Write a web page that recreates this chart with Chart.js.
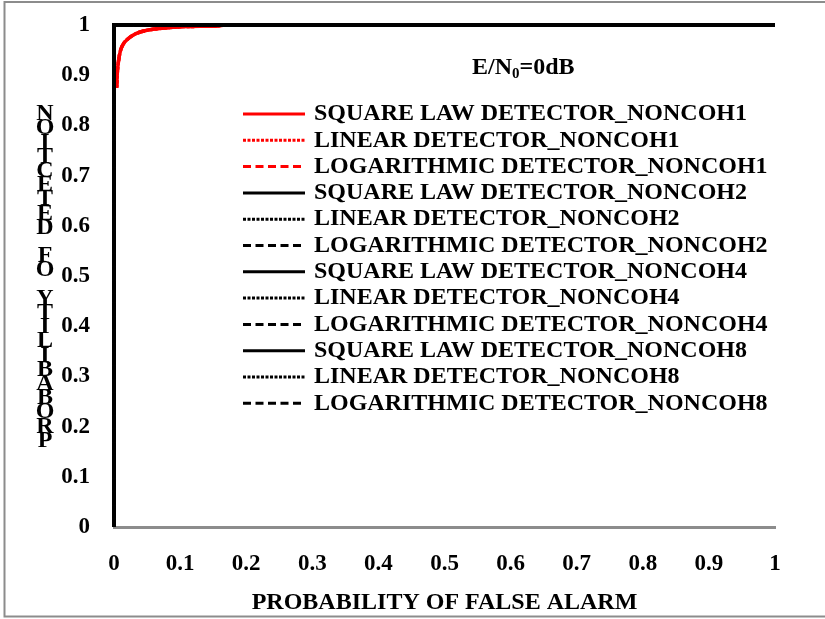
<!DOCTYPE html>
<html>
<head>
<meta charset="utf-8">
<script src="https://cdn.jsdelivr.net/npm/chart.js@4.4.1/dist/chart.umd.min.js"></script>
<style>
  body { margin: 0; background: #fff; }
  #wrap { width: 825px; height: 619px; }
</style>
</head>
<body>
<div id="wrap"><canvas id="roc" width="825" height="619"></canvas></div>
<script>
// ROC curves, E/N0 = 0dB
var xTicks = [0, 0.1, 0.2, 0.3, 0.4, 0.5, 0.6, 0.7, 0.8, 0.9, 1];
var yTicks = [0, 0.1, 0.2, 0.3, 0.4, 0.5, 0.6, 0.7, 0.8, 0.9, 1];

// noncoherent integration of 1 pulse
var pfa1 = [0.004, 0.005, 0.007, 0.01, 0.014, 0.02, 0.032, 0.045, 0.062, 0.085, 0.112, 0.155, 0.17, 0.3, 0.4, 0.5, 0.6, 0.7, 0.8, 0.9, 1];
var pdSquare1 = [0.875, 0.905, 0.93, 0.95, 0.962, 0.971, 0.982, 0.988, 0.992, 0.995, 0.997, 0.998, 1, 1, 1, 1, 1, 1, 1, 1, 1];
var pdLinear1 = [0.875, 0.905, 0.93, 0.95, 0.962, 0.971, 0.982, 0.988, 0.992, 0.995, 0.997, 0.998, 1, 1, 1, 1, 1, 1, 1, 1, 1];
var pdLog1 = [0.875, 0.905, 0.93, 0.95, 0.962, 0.971, 0.982, 0.988, 0.992, 0.995, 0.997, 0.998, 1, 1, 1, 1, 1, 1, 1, 1, 1];

// 2, 4 and 8 pulses: detection is already certain
var pfaN = [0, 0, 0.1, 0.2, 0.3, 0.4, 0.5, 0.6, 0.7, 0.8, 0.9, 1];
var pdSquare2 = [0, 1, 1, 1, 1, 1, 1, 1, 1, 1, 1, 1];
var pdLinear2 = [0, 1, 1, 1, 1, 1, 1, 1, 1, 1, 1, 1];
var pdLog2 = [0, 1, 1, 1, 1, 1, 1, 1, 1, 1, 1, 1];
var pdSquare4 = [0, 1, 1, 1, 1, 1, 1, 1, 1, 1, 1, 1];
var pdLinear4 = [0, 1, 1, 1, 1, 1, 1, 1, 1, 1, 1, 1];
var pdLog4 = [0, 1, 1, 1, 1, 1, 1, 1, 1, 1, 1, 1];
var pdSquare8 = [0, 1, 1, 1, 1, 1, 1, 1, 1, 1, 1, 1];
var pdLinear8 = [0, 1, 1, 1, 1, 1, 1, 1, 1, 1, 1, 1];
var pdLog8 = [0, 1, 1, 1, 1, 1, 1, 1, 1, 1, 1, 1];

var FONT = '"Liberation Serif", "Times New Roman", serif';

function pts(xs, ys) {
    return xs.map(function (x, i) { return { x: x, y: ys[i] }; });
}

var solid = [];
var fine = [3, 1.5];
var dash = [8, 4.5];

function series(label, xs, ys, color, pattern, order) {
    return {
        label: label,
        data: pts(xs, ys),
        borderColor: color,
        backgroundColor: color,
        borderWidth: 3.5,
        borderDash: pattern,
        pointRadius: 0,
        fill: false,
        cubicInterpolationMode: 'monotone',
        clip: false,
        order: order
    };
}

var datasets = [
    series('SQUARE LAW DETECTOR_NONCOH1', pfa1, pdSquare1, 'red', solid, 1),
    series('LINEAR DETECTOR_NONCOH1', pfa1, pdLinear1, 'red', fine, 2),
    series('LOGARITHMIC DETECTOR_NONCOH1', pfa1, pdLog1, 'red', dash, 3),
    series('SQUARE LAW DETECTOR_NONCOH2', pfaN, pdSquare2, 'black', solid, 0),
    series('LINEAR DETECTOR_NONCOH2', pfaN, pdLinear2, 'black', fine, 0),
    series('LOGARITHMIC DETECTOR_NONCOH2', pfaN, pdLog2, 'black', dash, 0),
    series('SQUARE LAW DETECTOR_NONCOH4', pfaN, pdSquare4, 'black', solid, 0),
    series('LINEAR DETECTOR_NONCOH4', pfaN, pdLinear4, 'black', fine, 0),
    series('LOGARITHMIC DETECTOR_NONCOH4', pfaN, pdLog4, 'black', dash, 0),
    series('SQUARE LAW DETECTOR_NONCOH8', pfaN, pdSquare8, 'black', solid, 0),
    series('LINEAR DETECTOR_NONCOH8', pfaN, pdLinear8, 'black', fine, 0),
    series('LOGARITHMIC DETECTOR_NONCOH8', pfaN, pdLog8, 'black', dash, 0)
];

// frame, titles and the legend box drawn by hand
var decor = {
    id: 'decor',
    beforeDraw: function (chart) {
        var ctx = chart.ctx;
        ctx.save();
        ctx.fillStyle = '#fff';
        ctx.fillRect(0, 0, chart.width, chart.height);
        ctx.strokeStyle = '#8c8c8c';
        ctx.lineWidth = 2;
        ctx.strokeRect(4.5, 2, chart.width + 10, 614.5);
        ctx.restore();
    },
    afterDraw: function (chart) {
        var ctx = chart.ctx;
        var area = chart.chartArea;
        ctx.save();
        ctx.fillStyle = '#000';

        // x axis title
        ctx.font = 'bold 24px ' + FONT;
        ctx.textAlign = 'center';
        ctx.textBaseline = 'middle';
        ctx.fillText('PROBABILITY OF FALSE ALARM', (area.left + area.right) / 2, 603);

        // y axis title, upright letters reading upwards
        var yTitle = 'PROBABILITY OF DETECTION'.split('').reverse();
        yTitle.forEach(function (ch, i) {
            ctx.fillText(ch, 45, 114 + i * 14.2);
        });

        // E/N0 label
        ctx.textAlign = 'left';
        var tx = 472, ty = 68;
        ctx.fillText('E/N', tx, ty);
        var w = ctx.measureText('E/N').width;
        ctx.font = 'bold 15px ' + FONT;
        ctx.fillText('0', tx + w, ty + 6);
        var w2 = ctx.measureText('0').width;
        ctx.font = 'bold 24px ' + FONT;
        ctx.fillText('=0dB', tx + w + w2, ty);

        // legend
        chart.data.datasets.forEach(function (ds, i) {
            var y = 114 + i * 26.3;
            ctx.strokeStyle = ds.borderColor;
            ctx.lineWidth = 3;
            ctx.setLineDash(ds.borderDash);
            ctx.beginPath();
            ctx.moveTo(243, y);
            ctx.lineTo(305, y);
            ctx.stroke();
            ctx.setLineDash([]);
            ctx.fillText(ds.label, 314, y);
        });
        ctx.restore();
    }
};

var rocChart = new Chart(document.getElementById('roc').getContext('2d'), {
    type: 'line',
    data: { datasets: datasets },
    options: {
        responsive: false,
        devicePixelRatio: 1,
        animation: false,
        layout: { padding: { left: 0, top: 25, right: 50, bottom: 0 } },
        plugins: {
            legend: { display: false },
            tooltip: { enabled: false }
        },
        scales: {
            x: {
                type: 'linear',
                min: 0,
                max: 1,
                afterFit: function (scale) {
                    scale.height = 92;
                    scale.paddingLeft = 0;
                    scale.paddingRight = 0;
                },
                afterBuildTicks: function (scale) {
                    scale.ticks = xTicks.map(function (v) { return { value: v }; });
                },
                ticks: {
                    color: '#000',
                    padding: 23,
                    maxRotation: 0,
                    font: { family: FONT, size: 23, weight: 'bold' },
                    callback: function (v) { return String(+v.toFixed(1)); }
                },
                grid: { display: false, drawTicks: false },
                border: { display: true, color: '#8c8c8c', width: 3 }
            },
            y: {
                type: 'linear',
                min: 0,
                max: 1,
                afterFit: function (scale) {
                    scale.width = 114;
                    scale.paddingTop = 0;
                    scale.paddingBottom = 0;
                },
                afterBuildTicks: function (scale) {
                    scale.ticks = yTicks.map(function (v) { return { value: v }; });
                },
                ticks: {
                    color: '#000',
                    padding: 24,
                    font: { family: FONT, size: 23, weight: 'bold' },
                    callback: function (v) { return String(+v.toFixed(1)); }
                },
                grid: { display: false, drawTicks: false },
                border: { display: false }
            }
        }
    },
    plugins: [decor]
});
</script>
</body>
</html>
